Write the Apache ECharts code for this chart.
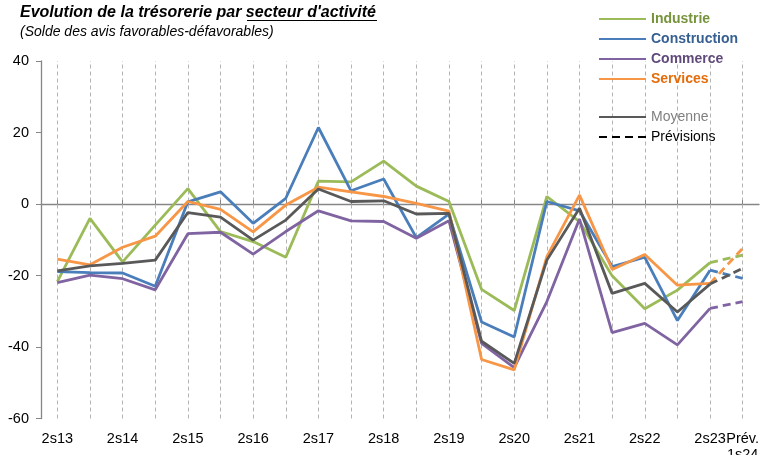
<!DOCTYPE html>
<html>
<head>
<meta charset="utf-8">
<title>Trésorerie par secteur</title>
<script src="https://cdn.jsdelivr.net/npm/echarts@6/dist/echarts.min.js"></script>
<style>
  html, body { margin: 0; padding: 0; background: #fff; }
  #main { width: 764px; height: 455px; }
</style>
</head>
<body>
<div id="main"></div>
<script>
// semestres (2s13 -> prévision 1s24)
const categories = ['2s13', '1s14', '2s14', '1s15', '2s15', '1s16', '2s16', '1s17', '2s17', '1s18', '2s18',
    '1s19', '2s19', '1s20', '2s20', '1s21', '2s21', '1s22', '2s22', '1s23', '2s23', 'Prév.\n1s24'];

const industrie = [-21.7, -4.0, -16.2, -5.9, 4.3, -7.7, -10.5, -14.9, 6.4, 6.2, 12.0,
    5.0, 0.7, -23.9, -29.8, 2.1, -4.9, -20.1, -29.3, -24.1, -16.4];
const construction = [-18.9, -19.2, -19.3, -23.0, 0.6, 3.4, -5.4, 1.6, 21.4, 3.7, 7.0,
    -9.4, -2.8, -33.0, -37.2, 0.7, -1.9, -17.5, -14.9, -32.6, -18.5];
const commerce = [-22.0, -19.9, -20.9, -24.0, -8.3, -7.9, -14.0, -7.7, -1.9, -4.7, -4.9,
    -9.6, -4.7, -39.0, -45.8, -27.3, -4.2, -36.0, -33.4, -39.4, -29.2];
const services = [-15.4, -17.0, -12.1, -9.0, 0.7, -1.5, -7.8, -0.3, 4.7, 3.4, 2.1,
    0.2, -2.0, -43.5, -46.4, -14.7, 2.5, -18.3, -14.1, -22.7, -22.2];
const moyenne = [-18.7, -17.3, -16.6, -15.7, -2.4, -3.7, -10.1, -4.5, 4.2, 0.7, 0.9,
    -2.8, -2.6, -38.4, -44.6, -15.7, -1.2, -25.0, -22.2, -30.2, -22.4];

// prévisions 1s24 (Industrie, Construction, Commerce, Services, Moyenne)
const previsions = [-14.3, -20.8, -27.3, -12.4, -18.0];

const yTicks = { min: -60, max: 40, interval: 20 };

const secteurs = [
    { name: 'Industrie', data: industrie, color: '#9bbb59', text: '#77933c' },
    { name: 'Construction', data: construction, color: '#4a7ebb', text: '#376092' },
    { name: 'Commerce', data: commerce, color: '#8064a2', text: '#604a7b' },
    { name: 'Services', data: services, color: '#f79646', text: '#e46c0a' },
    { name: 'Moyenne', data: moyenne, color: '#595959', text: '#7f7f7f' }
];

const police = 'Liberation Sans, Arial, sans-serif';

function serieSolide(s) {
    return {
        name: s.name,
        type: 'line',
        data: s.data,
        symbol: 'none',
        z: 3,
        lineStyle: { color: s.color, width: 2.8 },
        itemStyle: { color: s.color }
    };
}

function seriePrevision(s, valeur) {
    // seulement le dernier semestre connu + la prévision
    const d = s.data.map(() => null);
    d[s.data.length - 1] = s.data[s.data.length - 1];
    d.push(valeur);
    return {
        name: s.name + ' (prév.)',
        type: 'line',
        data: d,
        symbol: 'none',
        z: 3,
        lineStyle: { color: s.color, width: 2.8, type: [8, 5] },
        itemStyle: { color: s.color }
    };
}

var series = [];
secteurs.forEach((s, i) => {
    series.push(serieSolide(s));
    series.push(seriePrevision(s, previsions[i]));
});
series.push({
    name: 'Prévisions',
    type: 'line',
    data: [],
    symbol: 'none',
    lineStyle: { color: '#000', width: 2.8, type: [8, 5] },
    itemStyle: { color: '#000' }
});

var legendeSecteurs = secteurs.slice(0, 4).map(s => ({
    name: s.name,
    textStyle: { color: s.text, fontWeight: 'bold' }
}));

var baseLegende = {
    orient: 'vertical',
    left: 598,
    padding: 0,
    itemWidth: 47,
    itemHeight: 14,
    itemGap: 6,
    selectedMode: false,
    itemStyle: { opacity: 0 }, // pas de symbole, juste le trait
    textStyle: { fontFamily: police, fontSize: 14 }
};

var myChart = echarts.init(document.getElementById('main'), null, { renderer: 'canvas' });

var option = {
    animation: false,
    backgroundColor: '#fff',
    textStyle: { fontFamily: police },
    title: {
        text: "Evolution de la trésorerie par secteur d'activité",
        subtext: '(Solde des avis favorables-défavorables)',
        left: 20,
        top: 5,
        padding: 0,
        itemGap: 4,
        textStyle: { fontFamily: police, fontSize: 16, fontWeight: 'bold', fontStyle: 'italic', color: '#000' },
        subtextStyle: { fontFamily: police, fontSize: 14, fontStyle: 'italic', color: '#000' }
    },
    // soulignement de "secteur d'activité"
    graphic: [{
        type: 'line',
        shape: { x1: 247, y1: 20.5, x2: 377, y2: 20.5 },
        style: { stroke: '#000', lineWidth: 1 }
    }],
    legend: [
        Object.assign({}, baseLegende, { top: 12, data: legendeSecteurs }),
        Object.assign({}, baseLegende, {
            top: 110,
            data: [
                { name: 'Moyenne', textStyle: { color: '#7f7f7f' } },
                { name: 'Prévisions', textStyle: { color: '#000' } }
            ]
        })
    ],
    grid: { left: 41, right: 5, top: 61, bottom: 36.5, containLabel: false, outerBoundsMode: 'none' },
    xAxis: [{
        type: 'category',
        data: categories,
        position: 'bottom',
        boundaryGap: true,
        axisLine: { show: false, onZero: false },
        // grille verticale en pointillés, alignée sur les points
        axisTick: {
            show: true,
            inside: true,
            alignWithLabel: true,
            interval: 0,
            length: 357.5,
            lineStyle: { color: '#b4b4b4', width: 1, type: [4, 3] }
        },
        axisLabel: {
            interval: (i) => i % 2 === 0 || i === categories.length - 1,
            margin: 12,
            fontFamily: police,
            fontSize: 14.5,
            color: '#000',
            lineHeight: 16,
            verticalAlign: 'top'
        },
        splitLine: { show: false }
    }, {
        // axe horizontal sur le zéro
        type: 'category',
        data: categories,
        boundaryGap: true,
        axisLine: { show: true, onZero: true, lineStyle: { color: '#868686', width: 1.3 } },
        axisTick: { show: true, alignWithLabel: true, interval: 0, length: 4, lineStyle: { color: '#868686' } },
        axisLabel: { show: false },
        splitLine: { show: false }
    }],
    yAxis: {
        type: 'value',
        min: yTicks.min,
        max: yTicks.max,
        interval: yTicks.interval,
        axisLine: { show: true, lineStyle: { color: '#868686', width: 1.3 } },
        axisTick: { show: true, length: 5, lineStyle: { color: '#868686' } },
        axisLabel: { margin: 12, fontFamily: police, fontSize: 14.5, color: '#000' },
        splitLine: { show: false }
    },
    series: series
};

myChart.setOption(option);
</script>
</body>
</html>
